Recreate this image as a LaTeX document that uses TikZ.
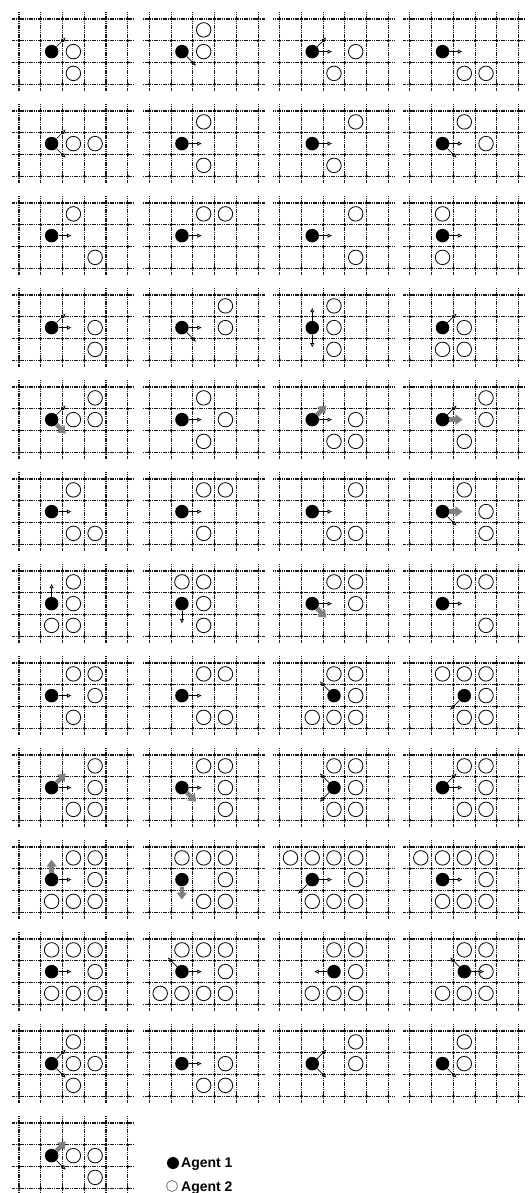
\documentclass[tikz,border=0pt]{standalone}
\usepackage{fontspec}
\newfontfamily\legendfont{Liberation Sans}
\usetikzlibrary{arrows.meta}

\tikzset{
  gridline/.style={line width=1.1pt, dash pattern=on 1.2pt off 0.6pt, black!90},
  agentone/.style={circle, fill=black, inner sep=0pt, minimum size=13.5pt},
  agenttwo/.style={circle, draw=black, line width=0.8pt, inner sep=0pt, minimum size=14.5pt},
  movearrow/.style={line width=0.7pt, -{Latex[open,length=4.5pt,width=4.5pt]}},
  grayarrow/.style={line width=4.5pt, black!50, -{Triangle[length=7pt,width=10pt]}},
}

% #1 row, #2 column, #3/#4 cell of agent 1, #5 cells of agent 2, #6 arrows
\newcommand{\board}[6]{%
  \begin{scope}[shift={({(19+130.3*(#2-1))*1pt},{-(19+92*(#1-1))*1pt})}, x=21.75pt, y=-21.75pt]
    \foreach \i in {0,...,5} \draw[gridline] (\i,-0.32) -- (\i,3.32);
    \foreach \j in {0,...,3} \draw[gridline] (-0.3,\j) -- (5.3,\j);
    \foreach \i in {0,...,5} \foreach \j in {0,...,3} \fill (\i,\j) circle (1.5pt);
    \foreach \u/\v in {#5} \node[agenttwo] (bt-#1-#2-\u\v) at (\u+0.5,\v+0.5) {};
    \node[agentone] (ag-#1-#2) at (#3+0.5,#4+0.5) {};
    \foreach \d/\s in {#6} \draw[\s] (ag-#1-#2.\d) -- ++(\d:13pt);
  \end{scope}}

\begin{document}
\begin{tikzpicture}[x=1pt, y=-1pt]
  \useasboundingbox (0,0) rectangle (528,1193);

  \board{1}{1}{1}{1}{2/1,2/2}{45/movearrow}
  \board{1}{2}{1}{1}{2/0,2/1}{-45/movearrow}
  \board{1}{3}{1}{1}{3/1,2/2}{45/movearrow,0/movearrow}
  \board{1}{4}{1}{1}{2/2,3/2}{0/movearrow}

  \board{2}{1}{1}{1}{2/1,3/1}{45/movearrow,-45/movearrow}
  \board{2}{2}{1}{1}{2/0,2/2}{0/movearrow}
  \board{2}{3}{1}{1}{3/0,2/2}{0/movearrow}
  \board{2}{4}{1}{1}{2/0,3/1}{0/movearrow,-45/movearrow}

  \board{3}{1}{1}{1}{2/0,3/2}{0/movearrow}
  \board{3}{2}{1}{1}{2/0,3/0}{0/movearrow}
  \board{3}{3}{1}{1}{3/0,3/2}{0/movearrow}
  \board{3}{4}{1}{1}{1/0,1/2}{0/movearrow}

  \board{4}{1}{1}{1}{3/1,3/2}{45/movearrow,0/movearrow}
  \board{4}{2}{1}{1}{3/0,3/1}{0/movearrow,-45/movearrow}
  \board{4}{3}{1}{1}{2/0,2/1,2/2}{90/movearrow,-90/movearrow}
  \board{4}{4}{1}{1}{2/1,1/2,2/2}{45/movearrow}

  \board{5}{1}{1}{1}{3/0,2/1,3/1}{45/movearrow,-45/grayarrow}
  \board{5}{2}{1}{1}{2/0,3/1,2/2}{0/movearrow}
  \board{5}{3}{1}{1}{3/1,2/2,3/2}{0/movearrow,45/grayarrow}
  \board{5}{4}{1}{1}{3/0,3/1,2/2}{45/movearrow,0/grayarrow}

  \board{6}{1}{1}{1}{2/0,2/2,3/2}{0/movearrow}
  \board{6}{2}{1}{1}{2/0,3/0,2/2}{0/movearrow}
  \board{6}{3}{1}{1}{3/0,2/2,3/2}{0/movearrow}
  \board{6}{4}{1}{1}{2/0,3/1,3/2}{0/grayarrow,-45/movearrow}

  \board{7}{1}{1}{1}{2/0,2/1,1/2,2/2}{90/movearrow}
  \board{7}{2}{1}{1}{1/0,2/0,2/1,2/2}{-90/movearrow}
  \board{7}{3}{1}{1}{2/0,3/0,3/1}{0/movearrow,-45/grayarrow}
  \board{7}{4}{1}{1}{2/0,3/0,3/2}{0/movearrow}

  \board{8}{1}{1}{1}{2/0,3/0,3/1,2/2}{0/movearrow}
  \board{8}{2}{1}{1}{2/0,3/0,2/2,3/2}{0/movearrow}
  \board{8}{3}{2}{1}{2/0,3/0,3/1,1/2,2/2,3/2}{135/movearrow}
  \board{8}{4}{2}{1}{1/0,2/0,3/0,3/1,2/2,3/2}{-135/movearrow}

  \board{9}{1}{1}{1}{3/0,3/1,2/2,3/2}{45/grayarrow,0/movearrow}
  \board{9}{2}{1}{1}{2/0,3/0,3/1,3/2}{0/movearrow,-45/grayarrow}
  \board{9}{3}{2}{1}{2/0,3/0,3/1,2/2,3/2}{135/movearrow,-135/movearrow}
  \board{9}{4}{1}{1}{2/0,3/0,3/1,2/2,3/2}{45/movearrow,0/movearrow}

  \board{10}{1}{1}{1}{2/0,3/0,3/1,1/2,2/2,3/2}{90/grayarrow,0/movearrow}
  \board{10}{2}{1}{1}{1/0,2/0,3/0,3/1,2/2,3/2}{-90/grayarrow}
  \board{10}{3}{1}{1}{0/0,1/0,2/0,3/0,3/1,1/2,2/2,3/2}{0/movearrow,-135/movearrow}
  \board{10}{4}{1}{1}{0/0,1/0,2/0,3/0,3/1,1/2,2/2,3/2}{0/movearrow}

  \board{11}{1}{1}{1}{1/0,2/0,3/0,3/1,1/2,2/2,3/2}{0/movearrow}
  \board{11}{2}{1}{1}{1/0,2/0,3/0,3/1,0/2,1/2,2/2,3/2}{135/movearrow,0/movearrow}
  \board{11}{3}{2}{1}{2/0,3/0,3/1,1/2,2/2,3/2}{180/movearrow}
  \board{11}{4}{2}{1}{2/0,3/0,3/1,1/2,2/2,3/2}{135/movearrow,0/movearrow}

  \board{12}{1}{1}{1}{2/0,2/1,3/1,2/2}{45/movearrow,-45/movearrow}
  \board{12}{2}{1}{1}{3/1,2/2,3/2}{0/movearrow}
  \board{12}{3}{1}{1}{3/0,3/1}{45/movearrow,-45/movearrow}
  \board{12}{4}{1}{1}{2/0,2/1}{-45/movearrow}

  \board{13}{1}{1}{1}{2/1,3/1,3/2}{45/grayarrow,-45/movearrow}

  % legend
  \node[agentone, minimum size=12pt] (key1) at (173,1163) {};
  \node[agenttwo, minimum size=11pt, draw=black!55] (key2) at (172,1186) {};
  \node[anchor=base west, inner sep=0pt, font=\legendfont\bfseries\fontsize{14}{16}\selectfont] (lab1) at (181,1167) {Agent 1};
  \node[anchor=base west, inner sep=0pt, font=\legendfont\bfseries\fontsize{14}{16}\selectfont] (lab2) at (181,1191) {Agent 2};
\end{tikzpicture}
\end{document}
